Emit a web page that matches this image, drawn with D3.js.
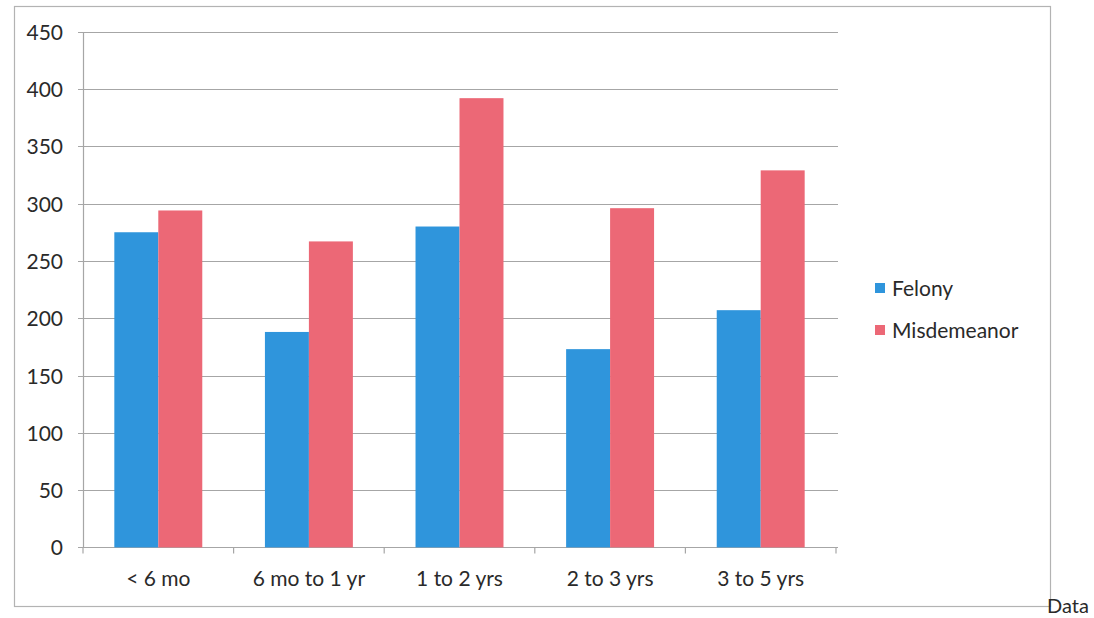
<!DOCTYPE html>
<html><head><meta charset="utf-8">
<script src="https://cdn.jsdelivr.net/npm/d3@7"></script>
<style>body{margin:0;background:#fff}svg{display:block}text{font-family:Lato,"Open Sans",sans-serif;fill:#2a2a2a}</style>
</head><body><svg id="c" width="1094" height="618"></svg>
<script>
const categories = ["< 6 mo", "6 mo to 1 yr", "1 to 2 yrs", "2 to 3 yrs", "3 to 5 yrs"];
const seriesNames = ["Felony", "Misdemeanor"];
const felony = [275, 188, 280, 173, 207];
const misdemeanor = [294, 267, 392, 296, 329];
const yTicks = [0, 50, 100, 150, 200, 250, 300, 350, 400, 450];
const colors = ["#2f95dc", "#ec6876"];

const svg = d3.select("#c");
const plot = {left: 83, right: 836, top: 31.7, bottom: 547.4};
const fs = "21px";

svg.append("rect").attr("x", 14.5).attr("y", 6.5).attr("width", 1036).attr("height", 600)
  .attr("fill", "none").attr("stroke", "#b3b3b3").attr("stroke-width", 1.2);

const x0 = d3.scaleBand().domain(categories).range([plot.left, plot.right]).paddingInner(0.416).paddingOuter(0.208);
const x1 = d3.scaleBand().domain(seriesNames).range([0, x0.bandwidth()]);
const y = d3.scaleLinear().domain([0, 450]).range([plot.bottom, plot.top]);

// gridlines
svg.append("g").selectAll("line").data(yTicks).join("line")
  .attr("x1", plot.left - 5).attr("x2", plot.right + 2)
  .attr("y1", d => Math.round(y(d)) + 0.5).attr("y2", d => Math.round(y(d)) + 0.5)
  .attr("stroke", "#a6a6a6").attr("stroke-width", 1.2);

// y axis
const yAxis = svg.append("g").attr("transform", `translate(${plot.left},0)`)
  .call(d3.axisLeft(y).tickValues(yTicks).tickSize(0).tickPadding(20));
yAxis.select(".domain").attr("stroke", "#a6a6a6").attr("stroke-width", 1.2);
yAxis.selectAll("text").style("font-size", fs).style("font-family", "Lato, sans-serif").attr("fill", "#2a2a2a").attr("dy", "0.36em");

// bars
const data = categories.map((c, i) => ({c, vals: [felony[i], misdemeanor[i]]}));
svg.append("g").selectAll("g").data(data).join("g")
  .attr("transform", d => `translate(${x0(d.c)},0)`)
  .selectAll("rect").data(d => d.vals.map((v, j) => ({name: seriesNames[j], v, j})))
  .join("rect")
  .attr("x", d => x1(d.name)).attr("width", x1.bandwidth())
  .attr("y", d => y(d.v)).attr("height", d => y(0) - y(d.v))
  .attr("fill", d => colors[d.j]);

// x axis
const xAxis = svg.append("g").attr("transform", `translate(0,${plot.bottom})`)
  .call(d3.axisBottom(x0).tickSize(0).tickPadding(24));
xAxis.select(".domain").remove();
xAxis.selectAll("text").style("font-size", fs).style("font-family", "Lato, sans-serif").attr("fill", "#2a2a2a");
const step = x0.step();
svg.append("g").selectAll("line").data(d3.range(categories.length + 1)).join("line")
  .attr("x1", i => plot.left + i * step).attr("x2", i => plot.left + i * step)
  .attr("y1", plot.bottom).attr("y2", plot.bottom + 6)
  .attr("stroke", "#a6a6a6").attr("stroke-width", 1.2);

// legend
const lg = svg.append("g").selectAll("g").data(seriesNames).join("g")
  .attr("transform", (d, i) => `translate(875,${283 + i * 42})`);
lg.append("rect").attr("width", 10).attr("height", 10).attr("fill", (d, i) => colors[i]);
lg.append("text").attr("x", 17).attr("y", 5).attr("dy", "0.36em")
  .style("font-size", fs).text(d => d);

svg.append("text").attr("x", 1047).attr("y", 613).style("font-size", "20px").text("Data");
</script></body></html>
